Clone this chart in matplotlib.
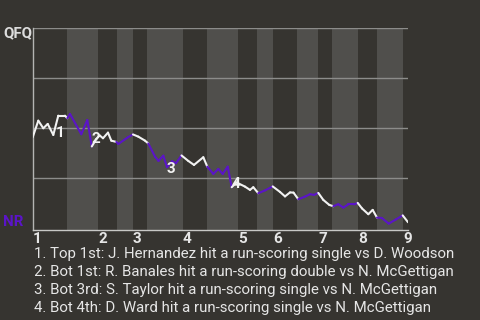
import matplotlib
matplotlib.use("Agg")
import matplotlib.pyplot as plt
from matplotlib.collections import LineCollection

BG = "#363430"
BAND = "#504f4c"
TEXT = "#e6e6e6"
QFQ_COLOR = "#f2f2f2"
NR_COLOR = "#5b14c8"

# Game progress (% of game) and QFQ win probability (%) after each play
progress = [0.0, 1.49, 2.82, 4.00, 5.49, 6.82, 8.61, 9.22, 9.94, 12.95,
            14.55, 15.75, 16.95, 17.85, 18.73, 20.06, 20.94, 22.28, 22.81, 25.39,
            26.72, 28.14, 29.92, 30.80, 32.59, 33.52, 34.80, 35.78, 37.12, 38.18,
            39.65, 41.46, 42.98, 45.46, 46.52, 48.12, 49.46, 50.63, 51.96, 53.03,
            54.30, 56.57, 57.90, 58.78, 60.11, 61.90, 63.95, 65.89, 67.23, 68.56,
            69.49, 70.77, 72.56, 73.89, 74.95, 76.10, 77.43, 79.03, 80.10, 81.43,
            82.77, 84.09, 85.61, 86.60, 87.74, 89.42, 90.59, 91.74, 92.99, 94.86,
            96.80, 98.59, 100.0]
wp_qfq = [45.5, 53.8, 50.0, 52.15, 46.65, 56.3, 56.3, 55.0, 57.15, 47.0,
          54.15, 40.9, 44.65, 46.4, 45.0, 47.8, 43.8, 43.15, 42.15, 45.5,
          46.9, 45.8, 43.8, 42.4, 35.8, 33.65, 36.3, 30.5, 33.5, 32.5,
          36.4, 33.65, 31.65, 35.5, 30.8, 27.15, 29.65, 27.15, 30.8, 20.5,
          22.9, 20.8, 19.15, 20.5, 17.5, 18.9, 20.9, 18.15, 15.9, 17.9,
          17.8, 14.5, 15.8, 17.0, 16.65, 17.65, 14.15, 11.65, 11.0, 12.0,
          10.3, 11.9, 11.9, 12.65, 9.9, 7.0, 9.15, 5.3, 5.15, 2.3,
          4.4, 6.4, 3.0]
# Team at bat for each play (Q = QFQ, N = NR)
batting = ("QQQQQQQQ" "NNNN" "QQQQQQ" "NNN" "QQQ" "NNNNNNN" "QQQQ" "NNNNN"
           "QQQQQ" "NN" "QQQQQ" "NNNN" "QQQ" "NNNNN" "QQQQ" "NNNN" "Q")

# Start of each half inning (% of game), ending with the final play
half_starts = [0.0, 9.14, 17.40, 22.46, 26.73, 30.46, 40.05, 46.46, 54.72,
               59.79, 64.05, 70.45, 76.04, 79.78, 86.71, 91.77, 98.69, 100.0]
innings = ["1", "2", "3", "4", "5", "6", "7", "8", "9"]

events = [
    "1. Top 1st: J. Hernandez hit a run-scoring single vs D. Woodson",
    "2. Bot 1st: R. Banales hit a run-scoring double vs N. McGettigan",
    "3. Bot 3rd: S. Taylor hit a run-scoring single vs N. McGettigan",
    "4. Bot 4th: D. Ward hit a run-scoring single vs N. McGettigan",
]
event_play = [4, 11, 27, 39]
label_offsets = [(5.0, 1.6), (3.0, 5.6), (2.7, -1.4), (2.7, 2.5)]

plt.rcParams["font.family"] = ["Roboto", "DejaVu Sans"]

fig = plt.figure(figsize=(4.8, 3.2), dpi=100, facecolor=BG)
ax = fig.add_axes([32.7 / 480, 1 - 229.8 / 320, 375.3 / 480, 201.5 / 320])
ax.set_facecolor(BG)
ax.set_xlim(0, 100)
ax.set_ylim(-0.8, 100)

# Bottom halves of innings shaded lighter
for i in range(1, len(half_starts) - 1, 2):
    ax.axvspan(half_starts[i], half_starts[i + 1], color=BAND, lw=0, zorder=0)

for g in (25, 50, 75, 100):
    ax.axhline(g, color="#8c8c8a", lw=1.0, zorder=1)

segs, cols = [], []
for i in range(1, len(progress)):
    segs.append([(progress[i - 1], wp_qfq[i - 1]), (progress[i], wp_qfq[i])])
    cols.append(QFQ_COLOR if batting[i] == "Q" else NR_COLOR)
ax.add_collection(LineCollection(segs, colors=cols, linewidths=1.5,
                                 capstyle="round", joinstyle="round", zorder=3))

for n, (idx, off) in enumerate(zip(event_play, label_offsets), start=1):
    ax.annotate(str(n), (progress[idx], wp_qfq[idx]), xytext=off,
                textcoords="offset points", ha="center", va="center",
                color=QFQ_COLOR, fontsize=11, fontweight="bold", zorder=4)

for s in ("top", "right"):
    ax.spines[s].set_visible(False)
ax.spines["left"].set_color("#b4b4b2")
ax.spines["bottom"].set_color("#c8c8c6")
ax.spines["left"].set_linewidth(1.0)
ax.spines["bottom"].set_linewidth(1.0)

tick_pos = [half_starts[i] for i in range(0, len(half_starts) - 1, 2)]
ax.set_xticks(tick_pos)
ax.set_xticklabels(innings, ha="left", fontsize=11, fontweight="bold", color=TEXT)
ax.tick_params(axis="x", length=0, pad=1.5)
ax.set_yticks([])

fig.text(3 / 480, 1 - 26.5 / 320, "QFQ", ha="left", va="top", fontsize=10.8,
         fontweight="bold", color="#dcdcdc")
fig.text(3 / 480, 1 - 226 / 320, "NR", ha="left", va="baseline", fontsize=10.8,
         fontweight="bold", color=NR_COLOR)

for k, line in enumerate(events):
    fig.text(34 / 480, 1 - (258.3 + 17.8 * k) / 320, line, ha="left",
             va="baseline", fontsize=10.8, color=TEXT)

fig.savefig("out.png", dpi=100, facecolor=BG)
